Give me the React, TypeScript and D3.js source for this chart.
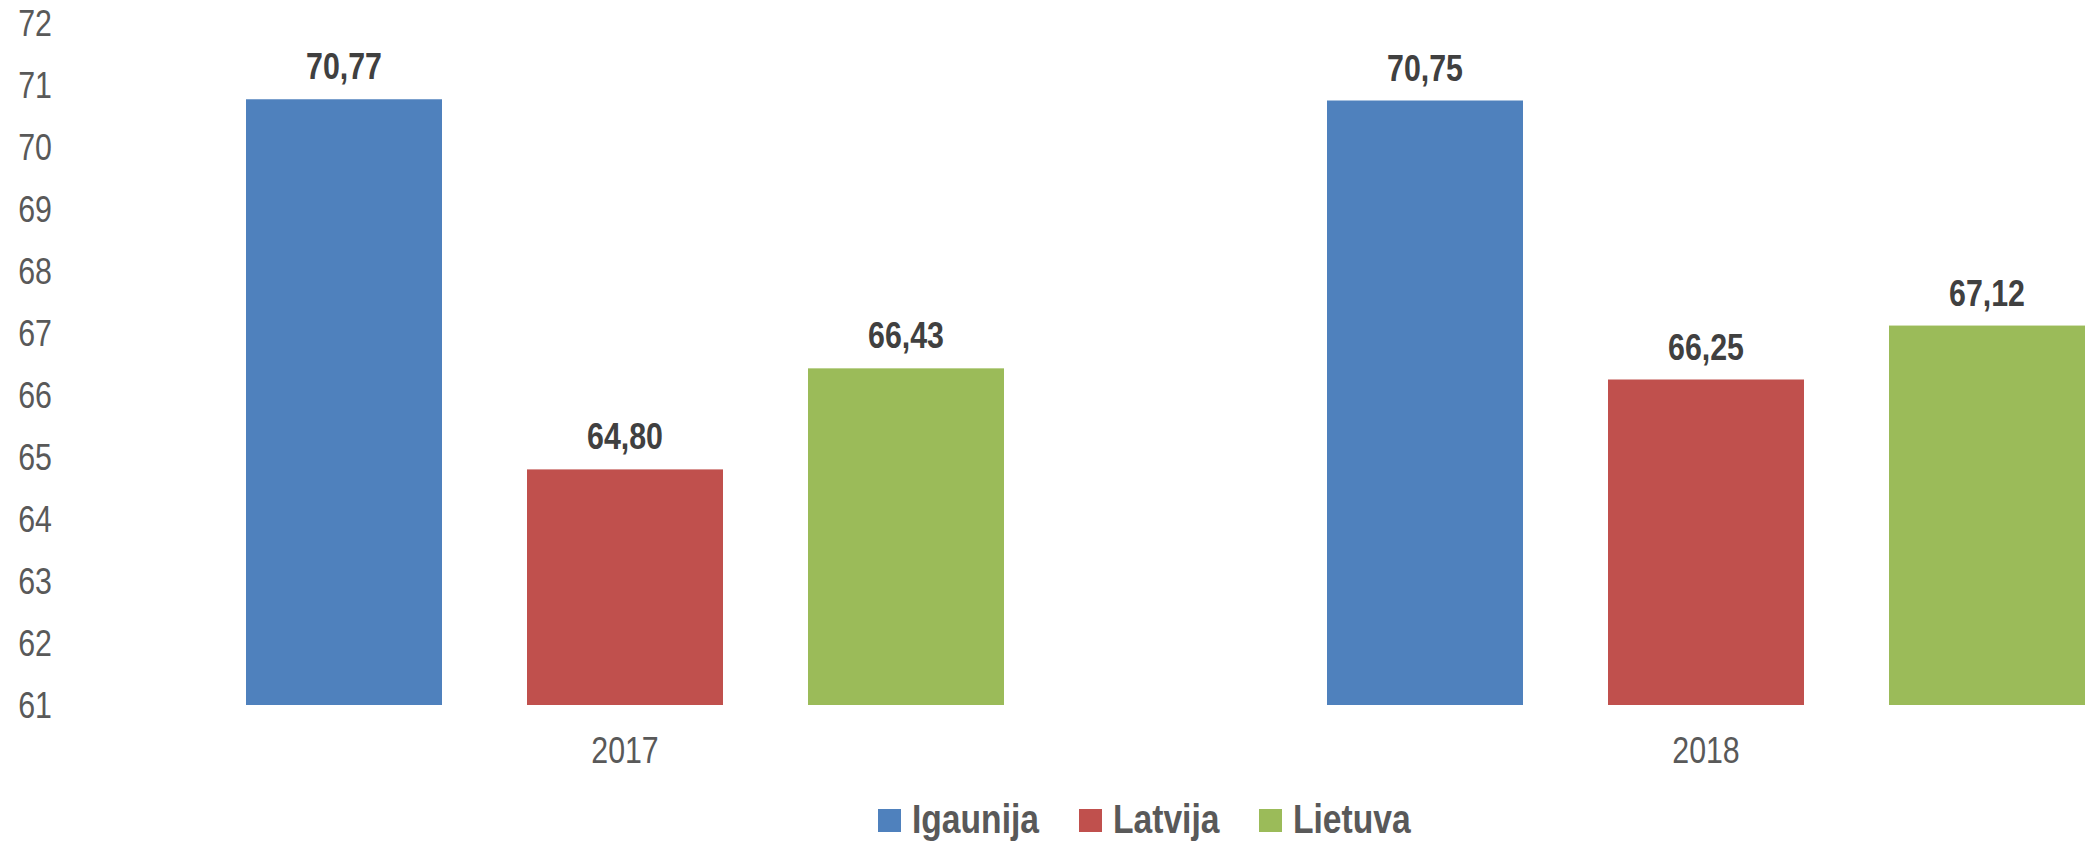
import React from "react";
import * as d3 from "d3";

const categories = ["2017", "2018"];
const seriesNames = ["Igaunija", "Latvija", "Lietuva"];
const igaunija = [70.77, 70.75];
const latvija = [64.8, 66.25];
const lietuva = [66.43, 67.12];
const yTicks = [61, 62, 63, 64, 65, 66, 67, 68, 69, 70, 71, 72];
const colors = ["#4F81BD", "#C0504D", "#9BBB59"];

const W = 2085;
const H = 843;
const FONT = "'Liberation Sans', Arial, sans-serif";
const SX = 0.82;

function NText(props: {
  x: number;
  y: number;
  anchor?: "start" | "middle" | "end";
  size: number;
  bold?: boolean;
  fill: string;
  dy?: string;
  children: React.ReactNode;
}) {
  return (
    <text
      transform={`translate(${props.x},${props.y}) scale(${SX},1)`}
      textAnchor={props.anchor || "start"}
      fontSize={props.size}
      fontWeight={props.bold ? "bold" : "normal"}
      fill={props.fill}
      dy={props.dy}
    >
      {props.children}
    </text>
  );
}

export default function App() {
  const series = [igaunija, latvija, lietuva];
  const y = d3.scaleLinear().domain([61, 72]).range([705, 23]);
  const x0 = d3.scaleBand<string>().domain(categories).range([84.5, 2246.5]).padding(0);
  const groupW = 758;
  const x1 = d3
    .scaleBand<string>()
    .domain(seriesNames)
    .range([-groupW / 2, groupW / 2])
    .paddingInner(0.3025)
    .paddingOuter(0);
  const fmt = (v: number) => v.toFixed(2).replace(".", ",");

  const legendItems = [
    { name: seriesNames[0], sq: 878, tx: 912 },
    { name: seriesNames[1], sq: 1079, tx: 1113 },
    { name: seriesNames[2], sq: 1259, tx: 1293 },
  ];

  return (
    <svg
      width={W}
      height={H}
      style={{ position: "absolute", left: 0, top: 0, background: "#fff" }}
      fontFamily={FONT}
    >
      <rect x={0} y={0} width={W} height={H} fill="#fff" />
      {yTicks.map((t) => (
        <NText key={t} x={52} y={y(t)} dy="0.35em" anchor="end" size={37} fill="#595959">
          {t}
        </NText>
      ))}
      {categories.map((c, ci) => {
        const cx = (x0(c) as number) + x0.bandwidth() / 2;
        return (
          <g key={c}>
            {series.map((s, si) => {
              const bx = cx + (x1(seriesNames[si]) as number);
              const v = s[ci];
              return (
                <g key={si}>
                  <rect
                    x={bx}
                    y={y(v)}
                    width={x1.bandwidth()}
                    height={y(61) - y(v)}
                    fill={colors[si]}
                  />
                  <NText
                    x={bx + x1.bandwidth() / 2}
                    y={y(v) - 20}
                    anchor="middle"
                    size={37}
                    bold
                    fill="#404040"
                  >
                    {fmt(v)}
                  </NText>
                </g>
              );
            })}
            <NText x={cx} y={763} anchor="middle" size={37} fill="#595959">
              {c}
            </NText>
          </g>
        );
      })}
      {legendItems.map((l, i) => (
        <g key={l.name}>
          <rect x={l.sq} y={809} width={23} height={23} fill={colors[i]} />
          <NText x={l.tx} y={833} size={41} bold fill="#595959">
            {l.name}
          </NText>
        </g>
      ))}
    </svg>
  );
}
